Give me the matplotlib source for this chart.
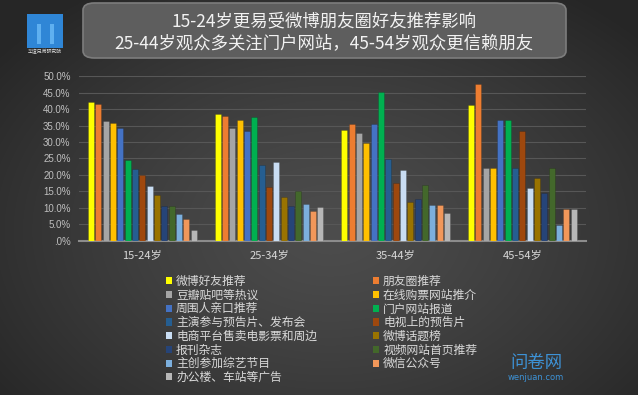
import numpy as np
import matplotlib
matplotlib.use('Agg')
import matplotlib.pyplot as plt
from matplotlib.patches import FancyBboxPatch, Rectangle, Patch
from matplotlib.ticker import FuncFormatter

plt.rcParams['font.family'] = ['Noto Sans CJK SC', 'DejaVu Sans']

# DATA
age_groups = ['15-24岁', '25-34岁', '35-44岁', '45-54岁']
channels = ['微博好友推荐', '朋友圈推荐', '豆瓣贴吧等热议', '在线购票网站推介',
            '周围人亲口推荐', '门户网站报道', '主演参与预告片、发布会', '电视上的预告片',
            '电商平台售卖电影票和周边', '微博话题榜', '报刊杂志', '视频网站首页推荐',
            '主创参加综艺节目', '微信公众号', '办公楼、车站等广告']
# percent of audience, one list per age group, same order as channels
age_15_24 = [42.3, 41.7, 36.4, 35.9, 34.4, 24.6, 21.9, 20.0, 16.6, 13.9, 10.6, 10.6, 8.0, 6.6, 3.3]
age_25_34 = [38.6, 37.9, 34.2, 36.8, 33.4, 37.6, 23.0, 16.2, 23.8, 13.2, 10.5, 15.1, 11.3, 9.1, 10.1]
age_35_44 = [33.5, 35.6, 32.6, 29.8, 35.6, 45.2, 24.8, 17.5, 21.4, 11.8, 12.7, 17.0, 10.7, 10.7, 8.3]
age_45_54 = [41.3, 47.7, 22.2, 22.2, 36.6, 36.6, 22.2, 33.4, 15.9, 19.1, 14.4, 22.2, 4.8, 9.5, 9.5]

colors = ['#FFFF00', '#ED7D31', '#A5A5A5', '#FFC000', '#4472C4', '#00B050',
          '#255E91', '#9E480E', '#C9DDF3', '#997300', '#264478', '#43682B',
          '#7CAFDD', '#F1975A', '#B7B7B7']

W, H = 638, 395
fig = plt.figure(figsize=(W / 100, H / 100), dpi=100)


def fx(px):
    return px / W


def fy(py):
    return 1 - py / H


# background: radial gradient
bg = fig.add_axes([0, 0, 1, 1], zorder=-10)
yy, xx = np.mgrid[0:H, 0:W]
r = np.sqrt(((xx - 330) / 420.0) ** 2 + ((yy - 230) / 290.0) ** 2)
shade = 0.30 - 0.15 * np.clip(r, 0, 1) ** 1.3
bg.imshow(np.dstack([shade] * 3), aspect='auto', extent=[0, 1, 0, 1])
bg.set_axis_off()

# title box
fig.patches.append(FancyBboxPatch((fx(83), fy(58)), fx(566) - fx(83), fy(3) - fy(58),
                                  boxstyle='round,pad=0,rounding_size=0.018',
                                  transform=fig.transFigure, facecolor='#5e5e5e',
                                  edgecolor='#7d7d7d', linewidth=1.2, zorder=1))
fig.text(fx(324), fy(21), '15-24岁更易受微博朋友圈好友推荐影响', ha='center', va='center',
         fontsize=12.5, color='#f2f2f2', zorder=2)
fig.text(fx(324), fy(43.5), '25-44岁观众多关注门户网站，45-54岁观众更信赖朋友', ha='center',
         va='center', fontsize=12.5, color='#f2f2f2', zorder=2)

# logo
fig.patches.append(Rectangle((fx(27), fy(48)), fx(36), fy(14) - fy(48), transform=fig.transFigure,
                             facecolor='#2f86d6', edgecolor='none', zorder=1))
for lx in (37, 50):
    fig.patches.append(Rectangle((fx(lx), fy(44)), fx(4), fy(24) - fy(44), transform=fig.transFigure,
                                 facecolor='#5fb0f0', edgecolor='none', zorder=2))
fig.text(fx(45), fy(52), '华谊兄弟研究院', ha='center', va='center', fontsize=3.5,
         color='#dddddd')

# watermark
fig.text(fx(536), fy(363), '问卷网', ha='center', va='center', fontsize=12.5, color='#3d92d6')
fig.text(fx(536), fy(377), 'wenjuan.com', ha='center', va='center', fontsize=6,
         color='#3d92d6', family='DejaVu Sans')

# chart
ax = fig.add_axes([fx(79), fy(240.7), fx(585.7) - fx(79), fy(76.2) - fy(240.7)])
ax.set_facecolor('none')
groups = [age_15_24, age_25_34, age_35_44, age_45_54]
x = np.arange(len(age_groups))
n = len(channels)
step = 0.0579
width = 0.048
for i in range(n):
    vals = [g[i] for g in groups]
    ax.bar(x + (i - (n - 1) / 2) * step, vals, width=width, color=colors[i],
           edgecolor='#00000040', linewidth=0.4, label=channels[i], zorder=3)

ax.set_xlim(-0.5, 3.5)
ax.set_ylim(0, 50)
ax.set_yticks(np.arange(0, 51, 5))
ax.yaxis.set_major_formatter(FuncFormatter(lambda v, p: '.0%' if abs(v) < 1e-9 else f'{v:.1f}%'))
ax.grid(axis='y', color='#575757', linewidth=0.8, zorder=0)
ax.set_xticks(x)
ax.set_xticklabels(age_groups)
for s in ['top', 'right', 'left']:
    ax.spines[s].set_visible(False)
ax.spines['bottom'].set_color('#8c8c8c')
ax.spines['bottom'].set_linewidth(1.5)
ax.tick_params(axis='both', length=0)
ax.tick_params(axis='y', labelsize=7, labelcolor='#bfbfbf', pad=6)
ax.tick_params(axis='x', labelsize=8, labelcolor='#d9d9d9', pad=7)
for t in ax.get_yticklabels():
    t.set_family(['Liberation Sans', 'DejaVu Sans'])

# legend in two columns (row-wise order)
handles = [Patch(facecolor=c, edgecolor='none') for c in colors]
left_idx = list(range(0, n, 2))
right_idx = list(range(1, n, 2))
for idx, px in ((left_idx, 166), (right_idx, 373)):
    fig.legend([handles[i] for i in idx], [channels[i] for i in idx], loc='upper left',
               bbox_to_anchor=(fx(px), fy(275)), frameon=False, fontsize=8.5,
               labelcolor='#d9d9d9', handlelength=0.55, handleheight=0.55,
               handletextpad=0.3, labelspacing=0.06, borderpad=0, borderaxespad=0)

fig.savefig('out.png', dpi=100)
